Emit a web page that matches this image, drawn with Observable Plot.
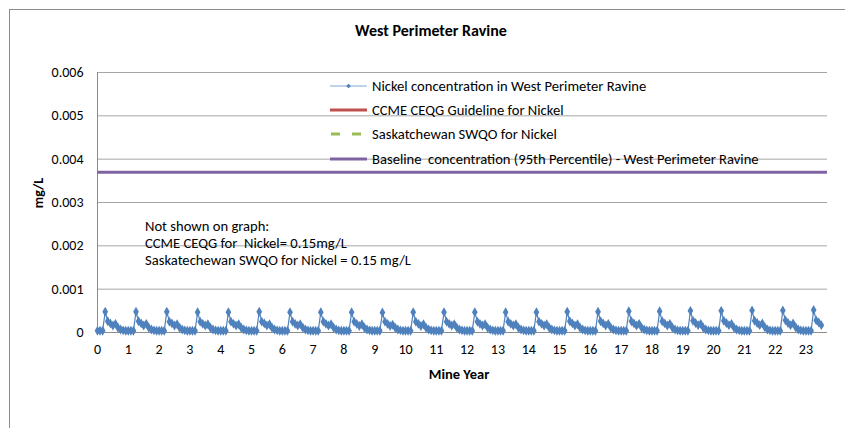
<!DOCTYPE html>
<html><head><meta charset="utf-8">
<script src="https://cdn.jsdelivr.net/npm/d3@7"></script>
<script src="https://cdn.jsdelivr.net/npm/@observablehq/plot@0.6"></script>
<style>
body{margin:0;background:#fff}
#chart{width:845px;height:428px;overflow:hidden}
</style>
</head><body><div id="chart"></div>
<script>
const title = "West Perimeter Ravine";
const xLabel = "Mine Year";
const yLabel = "mg/L";
const yearTicks = [0,1,2,3,4,5,6,7,8,9,10,11,12,13,14,15,16,17,18,19,20,21,22,23];
const yTicks = [0, 0.001, 0.002, 0.003, 0.004, 0.005, 0.006];
const yTickLabels = ["0", "0.001", "0.002", "0.003", "0.004", "0.005", "0.006"];

// Monthly nickel concentration (mg/L), one row per mine year
const nickelByYear = [
  [0.00004,0.00004,0.00004,0.00048,0.00026,0.00021,0.00016,0.00020,0.00011,0.00007,0.00005,0.00004],
  [0.00004,0.00004,0.00004,0.00048,0.00026,0.00021,0.00016,0.00020,0.00011,0.00007,0.00005,0.00004],
  [0.00004,0.00004,0.00004,0.00048,0.00025,0.00021,0.00016,0.00019,0.00011,0.00007,0.00005,0.00004],
  [0.00004,0.00004,0.00004,0.00047,0.00025,0.00020,0.00016,0.00019,0.00011,0.00007,0.00005,0.00004],
  [0.00004,0.00004,0.00004,0.00047,0.00025,0.00020,0.00016,0.00019,0.00011,0.00007,0.00005,0.00004],
  [0.00004,0.00004,0.00004,0.00048,0.00025,0.00021,0.00016,0.00019,0.00011,0.00007,0.00005,0.00004],
  [0.00004,0.00004,0.00004,0.00047,0.00025,0.00020,0.00016,0.00019,0.00011,0.00007,0.00005,0.00004],
  [0.00004,0.00004,0.00004,0.00047,0.00025,0.00020,0.00016,0.00019,0.00011,0.00007,0.00005,0.00004],
  [0.00004,0.00004,0.00004,0.00047,0.00025,0.00020,0.00015,0.00019,0.00011,0.00007,0.00005,0.00004],
  [0.00004,0.00004,0.00004,0.00046,0.00025,0.00020,0.00015,0.00018,0.00011,0.00007,0.00005,0.00004],
  [0.00004,0.00004,0.00004,0.00047,0.00025,0.00020,0.00015,0.00019,0.00011,0.00007,0.00005,0.00004],
  [0.00004,0.00004,0.00004,0.00047,0.00025,0.00020,0.00016,0.00019,0.00011,0.00007,0.00005,0.00004],
  [0.00004,0.00004,0.00004,0.00047,0.00025,0.00020,0.00016,0.00019,0.00011,0.00007,0.00005,0.00004],
  [0.00004,0.00004,0.00004,0.00047,0.00025,0.00020,0.00016,0.00019,0.00011,0.00007,0.00005,0.00004],
  [0.00004,0.00004,0.00004,0.00047,0.00025,0.00020,0.00016,0.00019,0.00011,0.00007,0.00005,0.00004],
  [0.00004,0.00004,0.00004,0.00048,0.00026,0.00021,0.00016,0.00019,0.00011,0.00007,0.00005,0.00004],
  [0.00004,0.00004,0.00004,0.00048,0.00026,0.00021,0.00016,0.00020,0.00011,0.00007,0.00005,0.00004],
  [0.00004,0.00004,0.00004,0.00049,0.00026,0.00021,0.00016,0.00020,0.00011,0.00007,0.00005,0.00004],
  [0.00004,0.00004,0.00004,0.00049,0.00026,0.00021,0.00016,0.00020,0.00011,0.00007,0.00005,0.00004],
  [0.00004,0.00004,0.00004,0.00050,0.00027,0.00022,0.00017,0.00020,0.00011,0.00007,0.00005,0.00004],
  [0.00004,0.00004,0.00004,0.00050,0.00027,0.00022,0.00017,0.00020,0.00011,0.00007,0.00005,0.00004],
  [0.00004,0.00004,0.00004,0.00051,0.00027,0.00022,0.00017,0.00021,0.00012,0.00007,0.00005,0.00004],
  [0.00004,0.00004,0.00004,0.00051,0.00028,0.00022,0.00017,0.00021,0.00012,0.00007,0.00005,0.00004],
  [0.00004,0.00004,0.00004,0.00052,0.00028,0.00023,0.00017]
];
const baselineValue = 0.0037;           // 95th percentile baseline
const ccmeGuideline = 0.15;             // not shown on graph
const swqoGuideline = 0.15;             // not shown on graph

const legendLabels = [
  "Nickel concentration in West Perimeter Ravine",
  "CCME CEQG Guideline for Nickel",
  "Saskatchewan SWQO for Nickel",
  "Baseline  concentration (95th Percentile) - West Perimeter Ravine"
];
const legendColors = ["#4F81BD", "#C0504D", "#9BBB59", "#8064A2"];
const noteLines = [
  "Not shown on graph:",
  "CCME CEQG for  Nickel= 0.15mg/L",
  "Saskatechewan SWQO for Nickel = 0.15 mg/L"
];

const FONT = "Carlito, Calibri, Lato, sans-serif";

const nickel = nickelByYear.flatMap((row, yr) => row.map((v, m) => ({x: yr + m / 12, y: v})));

const plot = Plot.plot({
  width: 845, height: 428,
  marginLeft: 97, marginRight: 18, marginTop: 72, marginBottom: 96,
  style: {fontFamily: FONT, fontSize: "14px", color: "#000", background: "transparent", overflow: "visible"},
  x: {domain: [0, 23.7]},
  y: {domain: [0, 0.006]},
  marks: [
    Plot.gridY(yTicks, {stroke: "#a6a6a6", strokeOpacity: 1}),
    Plot.ruleY([0], {stroke: "#8c8c8c"}),
    Plot.ruleX([0], {stroke: "#8c8c8c"}),
    Plot.ruleY([baselineValue], {stroke: legendColors[3], strokeWidth: 3}),
    Plot.line(nickel, {x: "x", y: "y", stroke: legendColors[0], strokeWidth: 1.2}),
    Plot.dot(nickel, {x: "x", y: "y", symbol: "diamond", r: 3, fill: legendColors[0], stroke: "none"}),
    Plot.axisX(yearTicks, {tickSize: 0, tickPadding: 12, tickFormat: d => String(d), label: null, fill: "#000"}),
    Plot.axisY(yTicks, {tickSize: 0, tickPadding: 14, tickFormat: (d) => yTickLabels[yTicks.indexOf(d)], label: null, fill: "#000"})
  ]
});
document.getElementById("chart").appendChild(plot);

const svg = d3.select(plot);
// outer chart frame
svg.insert("rect", ":first-child").attr("x", 9.5).attr("y", 9.5).attr("width", 850).attr("height", 430)
  .attr("fill", "none").attr("stroke", "#8c8c8c");

svg.append("text").attr("x", 431).attr("y", 36).attr("text-anchor", "middle")
  .attr("font-family", FONT).attr("font-weight", "bold").attr("font-size", 16).text(title);
svg.append("text").attr("x", 459).attr("y", 379).attr("text-anchor", "middle")
  .attr("font-family", FONT).attr("font-weight", "bold").attr("font-size", 14.5).text(xLabel);
svg.append("text").attr("transform", "translate(43,193) rotate(-90)").attr("text-anchor", "middle")
  .attr("font-family", FONT).attr("font-weight", "bold").attr("font-size", 14).text(yLabel);

const legendY = [86, 110, 134, 159];
const lg = svg.append("g").attr("font-family", FONT).attr("font-size", 14.6).attr("text-anchor", "start");
legendLabels.forEach((lab, i) => {
  const y = legendY[i];
  const ln = lg.append("line").attr("x1", 330).attr("x2", 367).attr("y1", y).attr("y2", y)
    .attr("stroke", legendColors[i]).attr("stroke-width", i === 0 ? 1 : 3);
  if (i === 0) ln.attr("stroke", "#7FA6D6");
  if (i === 2) ln.attr("stroke-dasharray", "9,12").attr("stroke-dashoffset", -1);
  if (i === 0) lg.append("path").attr("d", d3.symbol(d3.symbolDiamond2, 14)()).attr("transform", `translate(348.5,${y})`).attr("fill", legendColors[0]);
  lg.append("text").attr("x", 372).attr("y", y).attr("dy", "0.35em").text(lab);
});

const ng = svg.append("g").attr("font-family", FONT).attr("font-size", 14.6).attr("text-anchor", "start");
noteLines.forEach((t, i) => {
  ng.append("text").attr("x", 145).attr("y", 226 + i * 17).attr("dy", "0.35em").text(t);
});
</script>
</body></html>
